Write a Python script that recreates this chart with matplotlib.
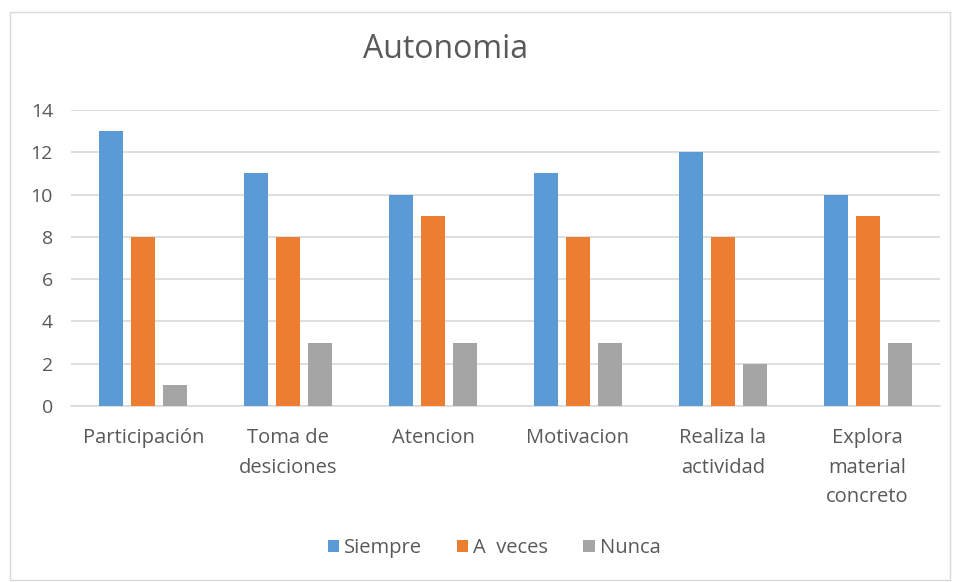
import matplotlib.pyplot as plt
import numpy as np
from matplotlib.patches import Rectangle

# --- data ---
categories = ["Participación", "Toma de\ndesiciones", "Atencion", "Motivacion",
              "Realiza la\nactividad", "Explora\nmaterial\nconcreto"]
siempre = [13, 11, 10, 11, 12, 10]
a_veces = [8, 8, 9, 8, 8, 9]
nunca = [1, 3, 3, 3, 2, 3]
series_names = ["Siempre", "A  veces", "Nunca"]
colors = ["#5B9BD5", "#ED7D31", "#A5A5A5"]

plt.rcParams['font.family'] = ['Open Sans', 'DejaVu Sans']
text_color = "#595959"

fig = plt.figure(figsize=(9.54, 5.82), dpi=100)
ax = fig.add_axes([71 / 954, 1 - 406 / 582, (940 - 71) / 954, (406 - 110) / 582])

x = np.arange(len(categories))
width = 0.166
step = 0.221
for i, (vals, name, c) in enumerate(zip([siempre, a_veces, nunca], series_names, colors)):
    ax.bar(x + (i - 1) * step, vals, width, color=c, label=name, zorder=3)

ax.set_xlim(-0.5, len(categories) - 0.5)
ax.set_ylim(0, 14)
ax.set_yticks(range(0, 15, 2))
ax.set_xticks(x)
ax.set_xticklabels(categories, linespacing=1.62, va='top', fontsize=14.5)
ax.tick_params(axis='both', length=0, colors=text_color)
ax.tick_params(axis='y', labelsize=14, pad=13)
ax.tick_params(axis='x', pad=16)
ax.grid(axis='y', color='#D9D9D9', linewidth=1.2, zorder=0)
for s in ['top', 'right', 'left']:
    ax.spines[s].set_visible(False)
ax.spines['bottom'].set_color('#D9D9D9')
ax.spines['bottom'].set_linewidth(1.2)

fig.text(446 / 954, 1 - 49 / 582, "Autonomia", ha='center', va='center',
         fontsize=23, color=text_color)

leg = fig.legend(loc='center', bbox_to_anchor=(494 / 954, 1 - 548 / 582), ncol=3,
                 frameon=False, fontsize=14.5, handlelength=0.55, handleheight=0.55,
                 handletextpad=0.25, columnspacing=1.75)
for t in leg.get_texts():
    t.set_color(text_color)

# chart border
fig.patches.append(Rectangle((10 / 954, 2 / 582), 940 / 954, 568 / 582,
                             transform=fig.transFigure, fill=False,
                             edgecolor='#D9D9D9', linewidth=1))

plt.savefig("out.png", dpi=100)
